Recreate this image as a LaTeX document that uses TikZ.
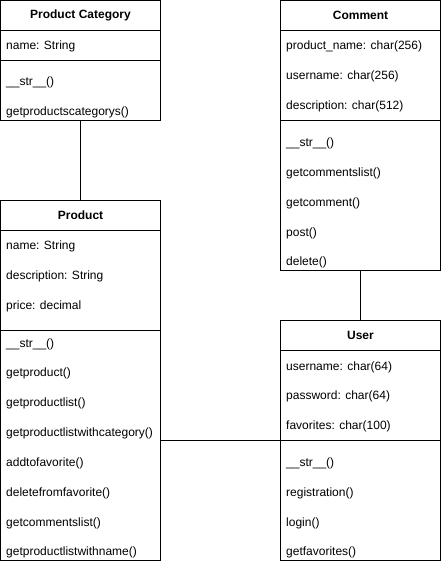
\documentclass[tikz,border=0pt]{standalone}
\usepackage{fontspec}
\setmainfont{Liberation Sans}
\begin{document}
\begin{tikzpicture}[x=1pt,y=-1pt,
  box/.style={draw, line width=1pt, minimum width=160pt, inner sep=0pt, outer sep=0pt, anchor=north west},
  ttl/.style={font=\fontsize{12}{14}\selectfont\bfseries, anchor=center, inner sep=0pt, yshift=-0.5pt},
  item/.style={font=\fontsize{12}{14}\selectfont, anchor=west, inner sep=0pt, yshift=-1pt},
  rule/.style={line width=1pt},
  link/.style={line width=1pt}]
\fill[white] (0,0) rectangle (441,562);
\useasboundingbox (0,0) rectangle (441,562);

% Product Category
\node[box, minimum height=120pt] (pc) at (0.5,0.5) {};
\node[ttl] (pct) at (80.5,15) {Product Category};
\draw[rule] (pc.west |- 0,30.5) -- (pc.east |- 0,30.5);
\node[item] (pca1) at (6,45) {name: String};
\draw[rule] (pc.west |- 0,60.5) -- (pc.east |- 0,60.5);
\node[item] (pcm1) at (6,81) {\_\_str\_\_()};
\node[item] (pcm2) at (6,111) {getproductscategorys()};

% Comment
\node[box, minimum height=270pt] (cm) at (280.5,0.5) {};
\node[ttl] (cmt) at (360.5,15) {Comment};
\draw[rule] (cm.west |- 0,30.5) -- (cm.east |- 0,30.5);
\node[item] (cma1) at (286,45) {product\_name: char(256)};
\node[item] (cma2) at (286,75) {username: char(256)};
\node[item] (cma3) at (286,105) {description: char(512)};
\draw[rule] (cm.west |- 0,120.5) -- (cm.east |- 0,120.5);
\node[item] (cmm1) at (286,142) {\_\_str\_\_()};
\node[item] (cmm2) at (286,172) {getcommentslist()};
\node[item] (cmm3) at (286,202) {getcomment()};
\node[item] (cmm4) at (286,232) {post()};
\node[item] (cmm5) at (286,261) {delete()};

% Product
\node[box, minimum height=360pt] (pr) at (0.5,200.5) {};
\node[ttl] (prt) at (80.5,215) {Product};
\draw[rule] (pr.west |- 0,230.5) -- (pr.east |- 0,230.5);
\node[item] (pra1) at (6,245) {name: String};
\node[item] (pra2) at (6,275) {description: String};
\node[item] (pra3) at (6,305) {price: decimal};
\draw[rule] (pr.west |- 0,330.5) -- (pr.east |- 0,330.5);
\node[item] (prm1) at (6,343) {\_\_str\_\_()};
\node[item] (prm2) at (6,372) {getproduct()};
\node[item] (prm3) at (6,402) {getproductlist()};
\node[item] (prm4) at (6,432) {getproductlistwithcategory()};
\node[item] (prm5) at (6,462) {addtofavorite()};
\node[item] (prm6) at (6,492) {deletefromfavorite()};
\node[item] (prm7) at (6,522) {getcommentslist()};
\node[item] (prm8) at (6,551) {getproductlistwithname()};

% User
\node[box, minimum height=240pt] (us) at (280.5,320.5) {};
\node[ttl] (ust) at (360.5,335) {User};
\draw[rule] (us.west |- 0,350.5) -- (us.east |- 0,350.5);
\node[item] (usa1) at (286,366) {username: char(64)};
\node[item] (usa2) at (286,395) {password: char(64)};
\node[item] (usa3) at (286,425) {favorites: char(100)};
\draw[rule] (us.west |- 0,440.5) -- (us.east |- 0,440.5);
\node[item] (usm1) at (286,462) {\_\_str\_\_()};
\node[item] (usm2) at (286,492) {registration()};
\node[item] (usm3) at (286,522) {login()};
\node[item] (usm4) at (286,551) {getfavorites()};

% connectors
\coordinate (uw) at (280.5,440.5);
\draw[link] (pc.south) -- (pr.north);
\draw[link] (cm.south) -- (us.north);
\draw[link] (pr.east |- uw) -- (uw);
\end{tikzpicture}
\end{document}
